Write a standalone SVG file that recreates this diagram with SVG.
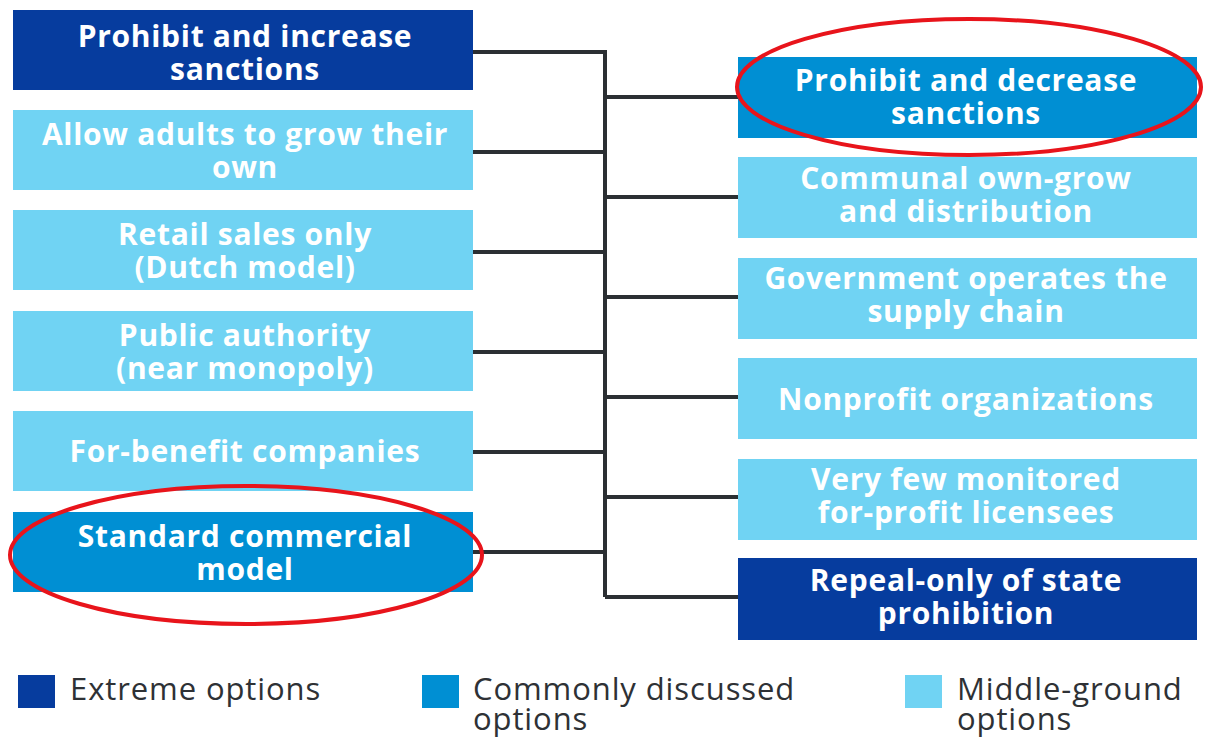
<svg xmlns="http://www.w3.org/2000/svg" width="1205" height="739" viewBox="0 0 1205 739">
<style>
.ext{fill:#063c9e}.com{fill:#008fd3}.mid{fill:#70d3f3}
.t{font-family:"Open Sans","Noto Sans",sans-serif;font-weight:bold;font-size:30px;letter-spacing:0.7px;fill:#ffffff;text-anchor:middle}
.lg{font-family:"Open Sans","Noto Sans",sans-serif;font-size:31px;letter-spacing:0.9px;fill:#2e3135}
.c{stroke:#2b2f33;stroke-width:4;fill:none}
.hl{stroke:#e8141b;stroke-width:4;fill:none}
</style>
<rect width="1205" height="739" fill="#ffffff"/>
<g id="connectors">
<path class="c" d="M473 52H605V597M473 152H605M473 252H605M473 352H605M473 452H605M473 552H605M605 97H738M605 197H738M605 297H738M605 397H738M605 497H738M605 597H738"/>
</g>
<g id="n1"><rect class="ext" x="13" y="10" width="460" height="80"/><text class="t" x="245" y="47">Prohibit and increase</text><text class="t" x="245" y="80">sanctions</text></g>
<g id="n2"><rect class="mid" x="13" y="110" width="460" height="80"/><text class="t" x="245" y="145">Allow adults to grow their</text><text class="t" x="245" y="178">own</text></g>
<g id="n3"><rect class="mid" x="13" y="210" width="460" height="80"/><text class="t" x="245" y="245">Retail sales only</text><text class="t" x="245" y="278">(Dutch model)</text></g>
<g id="n4"><rect class="mid" x="13" y="311" width="460" height="80"/><text class="t" x="245" y="346">Public authority</text><text class="t" x="245" y="379">(near monopoly)</text></g>
<g id="n5"><rect class="mid" x="13" y="411" width="460" height="80"/><text class="t" x="245" y="462">For-benefit companies</text></g>
<g id="n6"><rect class="com" x="13" y="512" width="460" height="80"/><text class="t" x="245" y="547">Standard commercial</text><text class="t" x="245" y="580">model</text></g>
<g id="m1"><rect class="com" x="738" y="57" width="459" height="81"/><text class="t" x="966" y="91">Prohibit and decrease</text><text class="t" x="966" y="124">sanctions</text></g>
<g id="m2"><rect class="mid" x="738" y="157" width="459" height="81"/><text class="t" x="966" y="189">Communal own-grow</text><text class="t" x="966" y="222">and distribution</text></g>
<g id="m3"><rect class="mid" x="738" y="258" width="459" height="81"/><text class="t" x="966" y="289">Government operates the</text><text class="t" x="966" y="322">supply chain</text></g>
<g id="m4"><rect class="mid" x="738" y="358" width="459" height="81"/><text class="t" x="966" y="410">Nonprofit organizations</text></g>
<g id="m5"><rect class="mid" x="738" y="459" width="459" height="81"/><text class="t" x="966" y="490">Very few monitored</text><text class="t" x="966" y="523">for-profit licensees</text></g>
<g id="m6"><rect class="ext" x="738" y="558" width="459" height="82"/><text class="t" x="966" y="591">Repeal-only of state</text><text class="t" x="966" y="624">prohibition</text></g>
<g id="highlights">
<ellipse class="hl" cx="246" cy="555" rx="236" ry="69"/>
<ellipse class="hl" cx="969" cy="87" rx="232" ry="68"/>
</g>
<g id="legend">
<rect class="ext" x="18" y="675" width="37" height="33"/><text class="lg" x="70" y="700">Extreme options</text>
<rect class="com" x="422" y="675" width="37" height="33"/><text class="lg" x="473" y="700">Commonly discussed</text><text class="lg" x="473" y="730">options</text>
<rect class="mid" x="905" y="675" width="37" height="33"/><text class="lg" x="957" y="700">Middle-ground</text><text class="lg" x="957" y="730">options</text>
</g>
</svg>
